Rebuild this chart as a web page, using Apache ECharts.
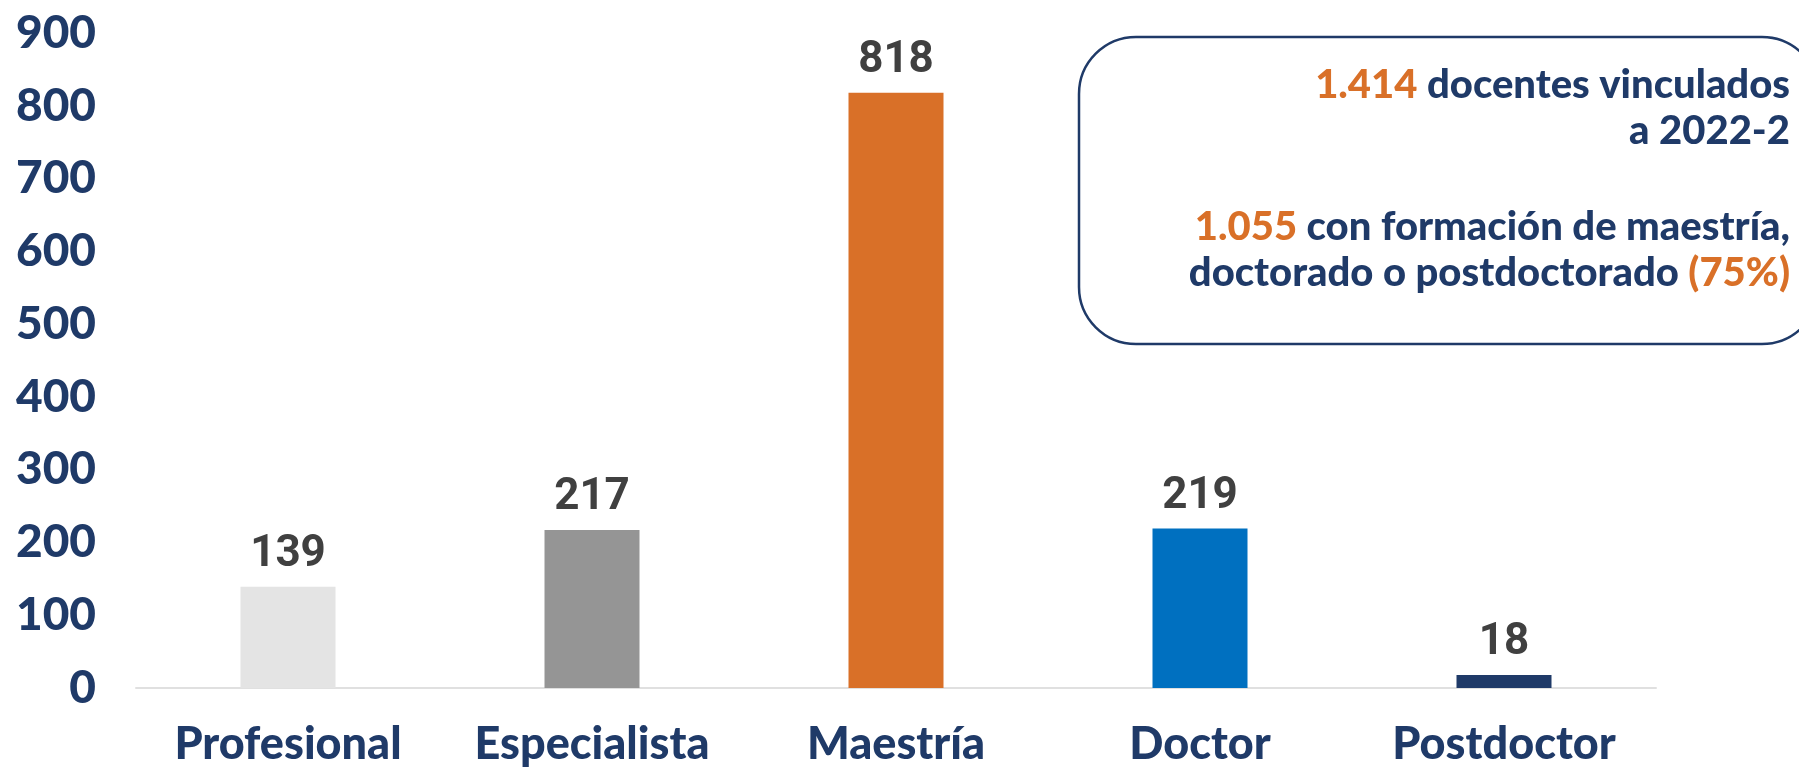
<!DOCTYPE html>
<html>
<head>
<meta charset="utf-8">
<script src="https://cdn.jsdelivr.net/npm/echarts@6/dist/echarts.min.js"></script>
<style>
  html, body { margin: 0; padding: 0; background: #fff; }
  #chart { width: 1799px; height: 767px; }
</style>
</head>
<body>
<div id="chart"></div>
<script>
const categories = ['Profesional', 'Especialista', 'Maestría', 'Doctor', 'Postdoctor']
const values = [139, 217, 818, 219, 18]
const barColors = ['#e4e4e4', '#959595', '#d97028', '#0070c0', '#1f3a68']
const totalDocentes = '1.414'
const totalPosgrado = '1.055'
const pctPosgrado = '75%'

const navy = '#1f3a68'
const orange = '#d97028'

const chart = echarts.init(document.getElementById('chart'))

chart.setOption({
  backgroundColor: '#fff',
  animation: false,
  grid: {
    left: 136,
    right: 143,
    top: 33,
    bottom: 78
  },
  xAxis: {
    type: 'category',
    data: categories,
    axisTick: { show: false },
    axisLine: { lineStyle: { color: '#e0e0e0', width: 2 } },
    axisLabel: {
      interval: 0,
      margin: 34,
      color: navy,
      fontFamily: 'Lato',
      fontWeight: 900,
      fontSize: 45
    }
  },
  yAxis: {
    type: 'value',
    min: 0,
    max: 900,
    interval: 100,
    splitLine: { show: false },
    axisLine: { show: false },
    axisTick: { show: false },
    axisLabel: {
      margin: 40,
      color: navy,
      fontFamily: 'Lato',
      fontWeight: 900,
      fontSize: 46
    }
  },
  series: [
    {
      type: 'bar',
      barWidth: 95,
      data: values.map((v, i) => ({ value: v, itemStyle: { color: barColors[i] } })),
      label: {
        show: true,
        position: 'top',
        distance: 10,
        color: '#404040',
        fontFamily: 'Roboto',
        fontWeight: 'bold',
        fontSize: 44
      }
    }
  ],
  graphic: [
    {
      type: 'rect',
      shape: { x: 1079, y: 37, width: 740, height: 307, r: 57 },
      style: { fill: 'none', stroke: navy, lineWidth: 2.5 }
    },
    {
      type: 'text',
      x: 1790,
      y: 62,
      style: {
        text: '{o|' + totalDocentes + ' }{n|docentes vinculados}\n{n|a 2022-2}\n{s|}\n{o|' + totalPosgrado + ' }{n|con formación de maestría,}\n{n|doctorado o postdoctorado }{o|(' + pctPosgrado + ')}',
        align: 'right',
        verticalAlign: 'top',
        rich: {
          o: { fill: orange, fontFamily: 'Lato', fontWeight: 900, fontSize: 40, lineHeight: 46 },
          n: { fill: navy, fontFamily: 'Lato', fontWeight: 900, fontSize: 40, lineHeight: 46 },
          s: { fontSize: 10, lineHeight: 50 }
        }
      }
    }
  ]
})
</script>
</body>
</html>
